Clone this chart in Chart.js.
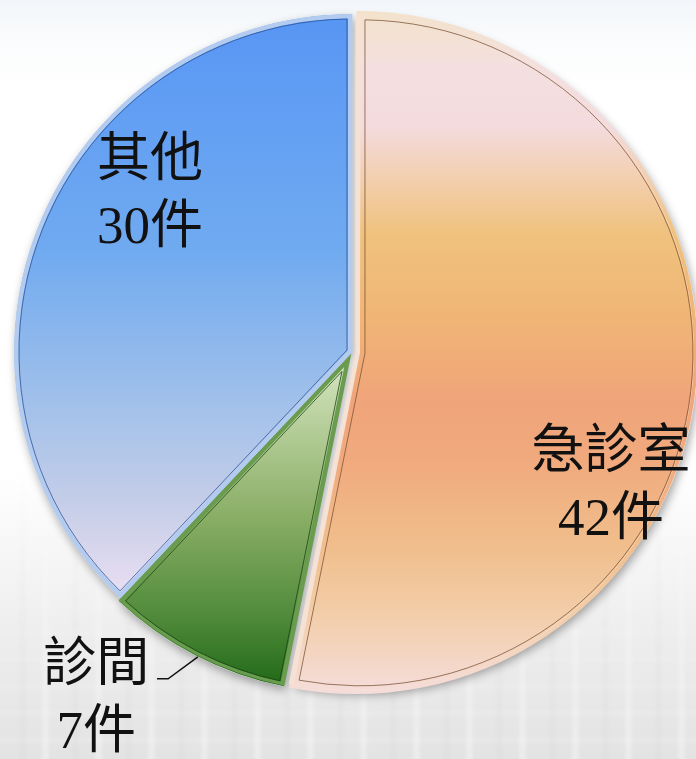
<!DOCTYPE html>
<html>
<head>
<meta charset="utf-8">
<script src="https://cdn.jsdelivr.net/npm/chart.js@4/dist/chart.umd.min.js"></script>
<style>
  html, body { margin: 0; padding: 0; }
  body {
    width: 696px; height: 759px; overflow: hidden;
    background: linear-gradient(to bottom, #f2f6fa 0px, #fbfcfd 45px, #ffffff 90px, #ffffff 470px, #ededed 640px, #e3e3e3 759px);
  }
  #wrap { position: relative; width: 696px; height: 759px; overflow: hidden; }
  #tex {
    position: absolute; left: -10px; right: -10px; bottom: -10px; height: 320px;
    background:
      repeating-linear-gradient(90deg, rgba(255,255,255,0.5) 0 5px, rgba(255,255,255,0) 5px 31px, rgba(205,205,205,0.3) 31px 34px, rgba(255,255,255,0) 34px 53px),
      repeating-linear-gradient(0deg, rgba(255,255,255,0.3) 0 3px, rgba(255,255,255,0) 3px 27px);
    filter: blur(2px);
    -webkit-mask-image: linear-gradient(to top, rgba(0,0,0,0.9), rgba(0,0,0,0));
  }
  #chart { position: absolute; left: 0; top: 0; }
</style>
</head>
<body>
<div id="wrap">
  <div id="tex"></div>
  <canvas id="chart" width="696" height="759"></canvas>
</div>
<script>
const categories = ["急診室", "診間", "其他"];
const counts = [42, 7, 30];
const unit = "件";

// vertical gradient stops for each slice (0 = top of pie, 1 = bottom)
const sliceStops = [
  [[0, "#f2e3c7"], [0.1, "#f4dfe0"], [0.18, "#f4dbdd"], [0.33, "#f0c27e"], [0.45, "#f0b575"], [0.57, "#f0a47a"], [0.65, "#f0a97d"], [0.77, "#f0bd8b"], [0.87, "#f2cda8"], [1, "#f5dfe1"]],
  [[0, "#d8e8c6"], [0.52, "#d3e4be"], [0.55, "#c8dcb0"], [0.74, "#8aae66"], [0.89, "#4f8a3a"], [1, "#1c6615"]],
  [[0, "#5795f3"], [0.07, "#5d9af4"], [0.35, "#70aaf0"], [0.57, "#a0c0ea"], [0.72, "#c4cde8"], [0.84, "#e4dcf0"], [1, "#efe3f2"]]
];
const borderColors = ["#f6e2d4", "#6a9c50", "#b2cbee"];
const innerLineColors = ["rgba(120,80,50,0.75)", "rgba(30,70,20,0.8)", "rgba(40,80,150,0.75)"];
const sliceOffsets = [16, 10, 0];

function arcGeom(arc) {
  const p = arc.getProps(["x", "y", "startAngle", "endAngle", "outerRadius", "circumference"], true);
  const off = (arc.options.offset || 0) / 4;
  const mid = (p.startAngle + p.endAngle) / 2;
  const shift = off * (2 - Math.sin(Math.min(Math.PI, p.circumference)));
  return {
    cx: p.x + Math.cos(mid) * shift,
    cy: p.y + Math.sin(mid) * shift,
    start: p.startAngle, end: p.endAngle, mid: mid, r: p.outerRadius
  };
}

function makeFill(ctx) {
  const chart = ctx.chart;
  const area = chart.chartArea;
  if (!area) return sliceStops[ctx.dataIndex][0][1];
  const arc = chart.getDatasetMeta(0).data[0];
  let top = area.top, bottom = area.bottom;
  if (arc && arc.outerRadius) {
    top = arc.y - arc.outerRadius;
    bottom = arc.y + arc.outerRadius;
  }
  const g = chart.ctx.createLinearGradient(0, top, 0, bottom);
  sliceStops[ctx.dataIndex].forEach(s => g.addColorStop(s[0], s[1]));
  return g;
}

const pieShadow = {
  id: "pieShadow",
  beforeDatasetsDraw(chart) {
    const ctx = chart.ctx;
    chart.getDatasetMeta(0).data.forEach(arc => {
      const g = arcGeom(arc);
      ctx.save();
      ctx.shadowColor = "rgba(0,0,0,0.35)";
      ctx.shadowBlur = 10;
      ctx.shadowOffsetX = 2;
      ctx.shadowOffsetY = 4;
      ctx.beginPath();
      ctx.moveTo(g.cx, g.cy);
      ctx.arc(g.cx, g.cy, g.r, g.start, g.end);
      ctx.closePath();
      ctx.fillStyle = "#ffffff";
      ctx.fill();
      ctx.restore();
    });
  }
};

const insetLines = {
  id: "insetLines",
  afterDatasetsDraw(chart, args, opts) {
    const ctx = chart.ctx;
    const d = opts.inset;
    chart.getDatasetMeta(0).data.forEach((arc, i) => {
      const g = arcGeom(arc);
      const half = (g.end - g.start) / 2;
      const apex = d / Math.sin(half);
      const r = g.r - d;
      const da = Math.asin(d / r);
      ctx.save();
      ctx.beginPath();
      ctx.moveTo(g.cx + Math.cos(g.mid) * apex, g.cy + Math.sin(g.mid) * apex);
      ctx.arc(g.cx, g.cy, r, g.start + da, g.end - da);
      ctx.closePath();
      ctx.strokeStyle = innerLineColors[i];
      ctx.lineWidth = 1;
      ctx.stroke();
      ctx.restore();
    });
  }
};

const sliceLabels = {
  id: "sliceLabels",
  afterDraw(chart, args, opts) {
    const ctx = chart.ctx;
    const arc = chart.getDatasetMeta(0).data[0];
    const x = arc.x, y = arc.y, R = arc.outerRadius;
    ctx.save();
    ctx.font = opts.font;
    ctx.fillStyle = "#111111";
    ctx.textAlign = "center";
    ctx.textBaseline = "middle";
    categories.forEach((c, i) => {
      const p = opts.places[i];
      const bx = x + p[0] * R, by = y + p[1] * R;
      ctx.fillText(c, bx, by - opts.lineHeight / 2);
      ctx.fillText(counts[i] + unit, bx, by + opts.lineHeight / 2);
    });
    ctx.beginPath();
    opts.leader.forEach((p, k) => {
      const px = x + p[0] * R, py = y + p[1] * R;
      if (k === 0) ctx.moveTo(px, py); else ctx.lineTo(px, py);
    });
    ctx.strokeStyle = "#111111";
    ctx.lineWidth = 1.5;
    ctx.stroke();
    ctx.restore();
  }
};

new Chart(document.getElementById("chart"), {
  type: "pie",
  data: {
    labels: categories,
    datasets: [{
      data: counts,
      backgroundColor: makeFill,
      borderColor: borderColors,
      borderWidth: 4,
      borderAlign: "inner",
      offset: sliceOffsets
    }]
  },
  options: {
    responsive: false,
    animation: false,
    radius: 338,
    layout: { padding: { left: 8, right: 0, top: 0, bottom: 55 } },
    plugins: {
      legend: { display: false },
      tooltip: { enabled: false },
      insetLines: { inset: 5 },
      sliceLabels: {
        font: '53px "Liberation Serif", "Noto Sans CJK TC", serif',
        lineHeight: 67,
        places: [[0.766, 0.402], [-0.757, 1.03], [-0.598, -0.464]],
        leader: [[-0.577, 0.967], [-0.544, 0.967], [-0.456, 0.902]]
      }
    }
  },
  plugins: [pieShadow, insetLines, sliceLabels]
});
</script>
</body>
</html>
